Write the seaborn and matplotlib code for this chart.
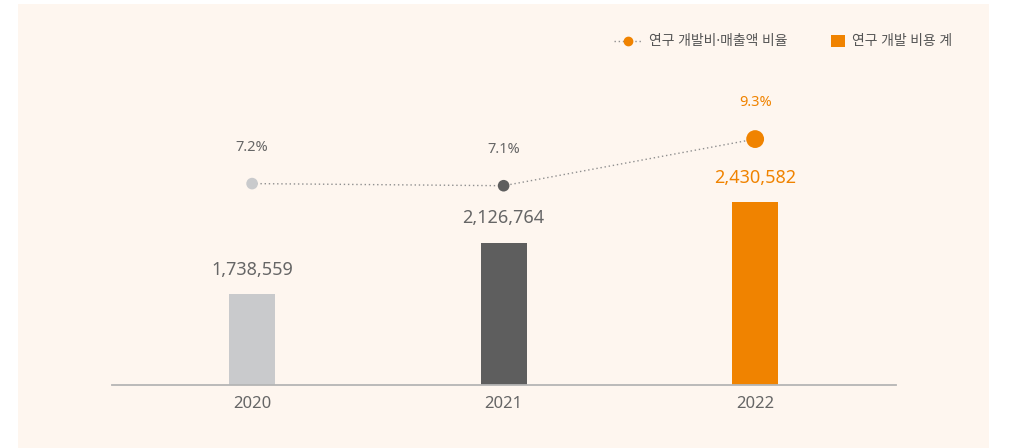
import numpy as np
import matplotlib
matplotlib.use("Agg")
import matplotlib.pyplot as plt
from matplotlib.patches import Rectangle, Patch
from matplotlib.lines import Line2D
import seaborn as sns

# R&D spending (unit: KRW 1,000) and R&D-to-sales ratio (%)
years = ["2020", "2021", "2022"]
rd_cost = [1738559, 2126764, 2430582]
rd_ratio = [7.2, 7.1, 9.3]
cost_labels = ["1,738,559", "2,126,764", "2,430,582"]
ratio_labels = ["7.2%", "7.1%", "9.3%"]
legend_labels = ["연구 개발비·매출액 비율", "연구 개발 비용 계"]

bar_colors = ["#c9cacc", "#5e5e5e", "#f08300"]
text_colors = ["#666666", "#666666", "#f08300"]
marker_sizes = [70, 70, 165]
panel_color = "#fef6ef"

sns.set_theme(style="white")
plt.rcParams["font.family"] = ["Noto Sans", "Noto Sans CJK KR", "DejaVu Sans"]

W, H, DPI = 1022, 448, 100
fig = plt.figure(figsize=(W / DPI, H / DPI), dpi=DPI, facecolor="white")

# soft panel behind the chart
fig.patches.append(Rectangle((18 / W, 0), (989 - 18) / W, (448 - 4) / H,
                             transform=fig.transFigure, facecolor=panel_color,
                             edgecolor="none", zorder=-10))

ax = fig.add_axes([112 / W, 63 / H, (896 - 112) / W, (385 - 60) / H])
ax.set_facecolor("none")

x = np.arange(len(years))
sns.barplot(x=x, y=rd_cost, hue=x, palette=bar_colors, legend=False,
            width=0.183, saturation=1, linewidth=0, edgecolor="none",
            ax=ax, native_scale=True)
ax.set_xlim(-0.557, 2.56)
ax.set_ylim(1055000, 3500000)

for xi, v, lab, c in zip(x, rd_cost, cost_labels, text_colors):
    ax.annotate(lab, (xi, v), xytext=(0, 17.5), textcoords="offset points",
                ha="center", va="center", fontsize=13, color=c)

ax.set_xticks(x)
ax.set_xticklabels(years, fontsize=12, color="#666666")
ax.tick_params(axis="x", length=0, pad=8)
ax.set_yticks([])
ax.set_xlabel("")
ax.set_ylabel("")
for side in ["top", "left", "right"]:
    ax.spines[side].set_visible(False)
ax.spines["bottom"].set_color("#b5b5b5")
ax.spines["bottom"].set_linewidth(1.3)

# ratio line on a secondary scale
ax2 = ax.twinx()
ax2.set_facecolor("none")
sns.lineplot(x=x, y=rd_ratio, ax=ax2, color="#8f8f8f", linewidth=1.0,
             linestyle=(0, (1, 2)), zorder=2)
sns.scatterplot(x=x, y=rd_ratio, hue=x, palette=bar_colors, size=x,
                sizes=dict(zip(x, marker_sizes)), legend=False,
                edgecolor="none", ax=ax2, zorder=3)
ax2.set_ylim(-2.3, 13.03)
ax2.set_yticks([])
ax2.set_ylabel("")
for side in ["top", "left", "right", "bottom"]:
    ax2.spines[side].set_visible(False)

for xi, v, lab, c in zip(x, rd_ratio, ratio_labels, text_colors):
    ax2.annotate(lab, (xi, v), xytext=(0, 26), textcoords="offset points",
                 ha="center", va="center", fontsize=10.5, color=c)

# legend
line_handle = Line2D([], [], color="#8f8f8f", linestyle=(0, (1, 2)), linewidth=1,
                     marker="o", markersize=6, markerfacecolor="#f08300",
                     markeredgecolor="#f08300")
leg1 = fig.legend([line_handle], [legend_labels[0]], loc="center left",
                  bbox_to_anchor=(607 / W, 1 - 42 / H), frameon=False,
                  borderpad=0, handlelength=2.0, handletextpad=0.5,
                  fontsize=10, labelcolor="#555555")
bar_handle = Patch(facecolor="#f08300", edgecolor="none")
leg2 = fig.legend([bar_handle], [legend_labels[1]], loc="center left",
                  bbox_to_anchor=(824 / W, 1 - 42 / H), frameon=False,
                  borderpad=0, handlelength=1.0, handleheight=1.0,
                  handletextpad=0.5, fontsize=10, labelcolor="#555555")

fig.savefig("out.png", dpi=DPI, facecolor="white")
